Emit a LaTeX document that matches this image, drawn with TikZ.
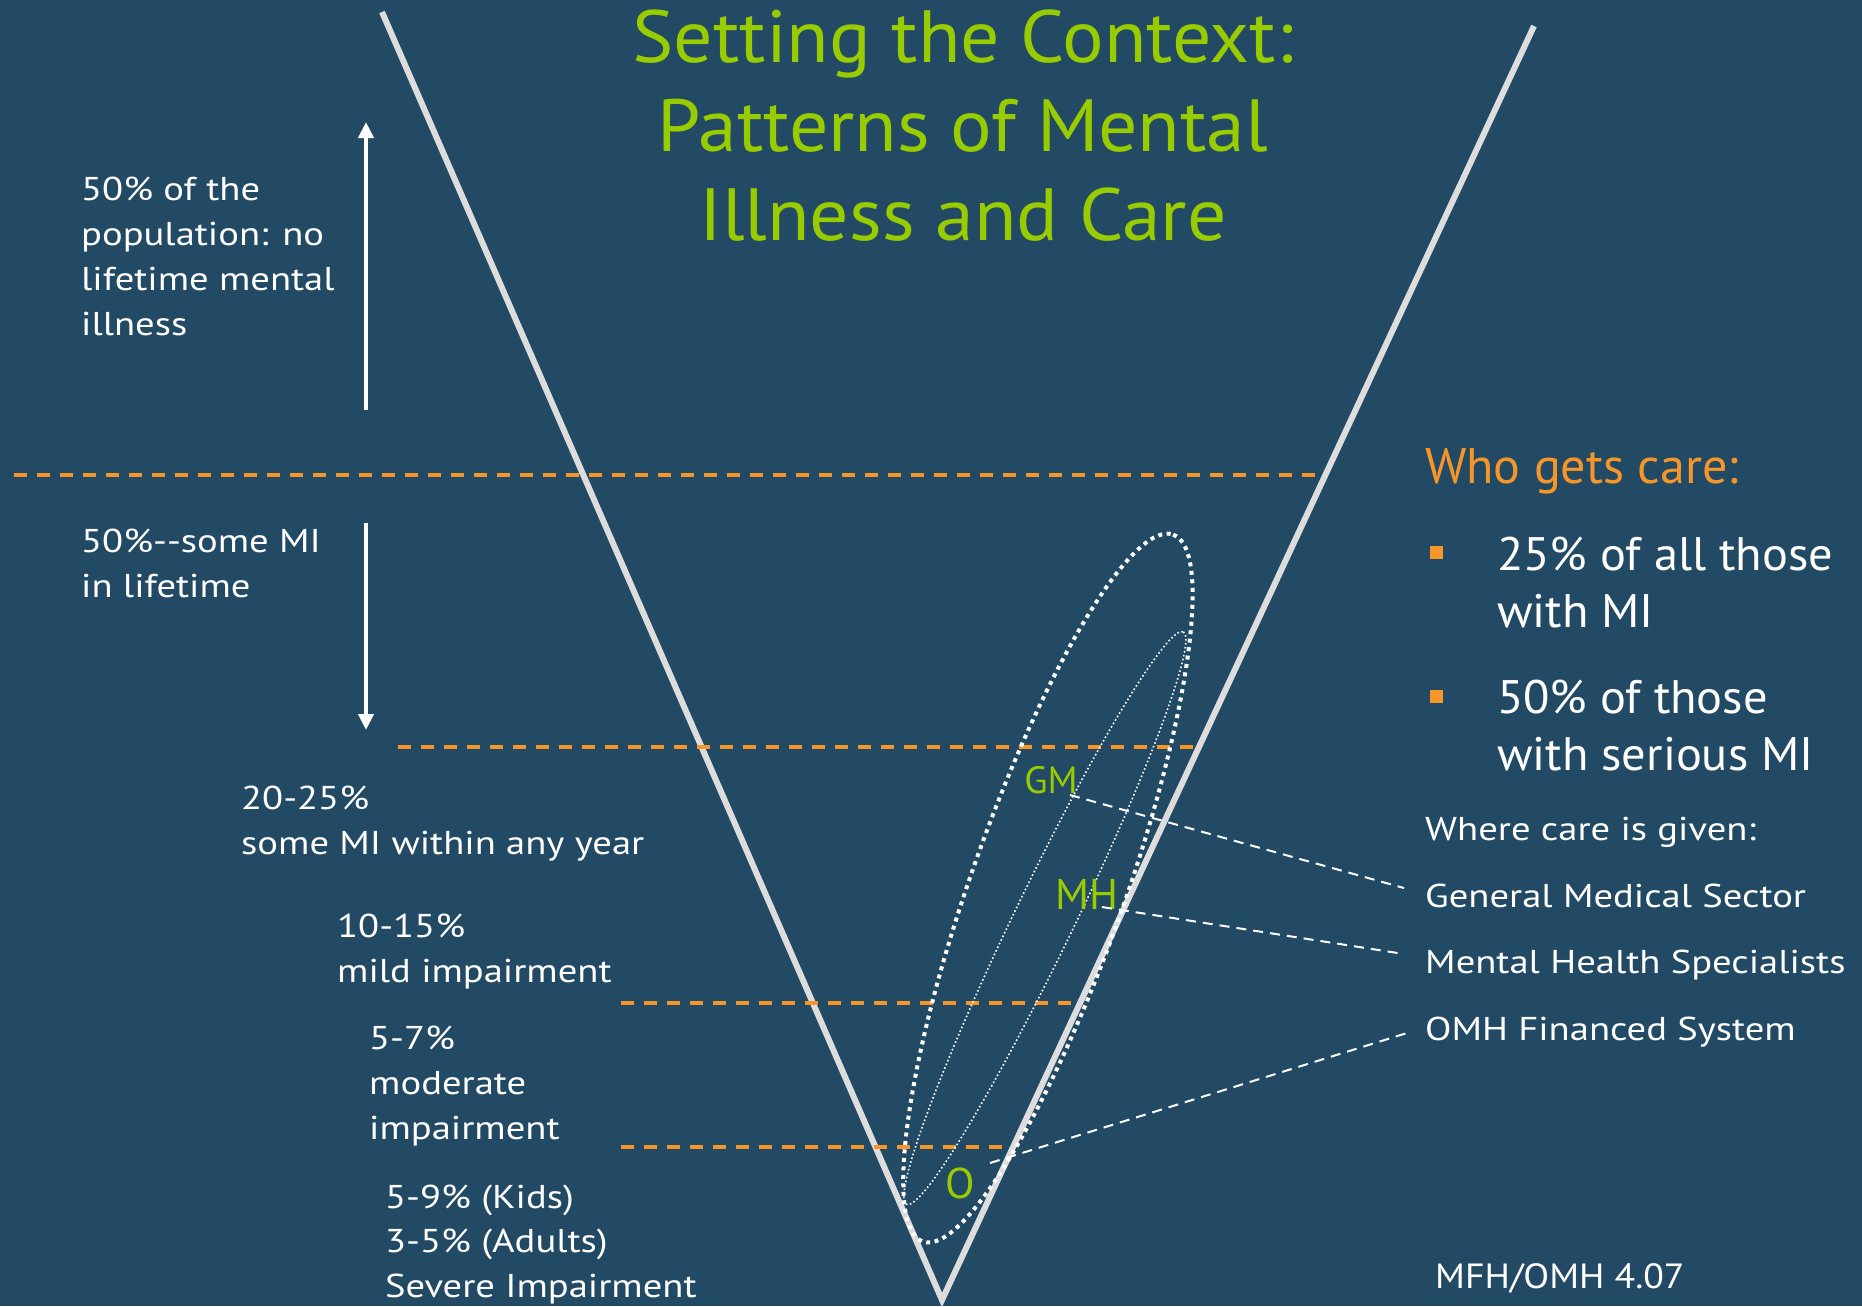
\documentclass[tikz,border=0pt]{standalone}
\usepackage{fontspec}
\setmainfont{PT Sans}
\newfontfamily\fa{PT Sans}[FakeStretch=1.17]
\newfontfamily\fb{PT Sans}[FakeStretch=1.05]
\newfontfamily\fc{PT Sans}[FakeStretch=1.08]
\newfontfamily\fd{PT Sans}[FakeStretch=1.03]
\usetikzlibrary{arrows.meta}
\definecolor{bg}{RGB}{35,74,100}
\definecolor{ttl}{RGB}{153,204,0}
\definecolor{org}{RGB}{247,150,40}
\definecolor{vgray}{RGB}{221,221,221}
\begin{document}
\begin{tikzpicture}[x=1pt,y=-1pt,
  lbl/.style={text=white, anchor=base west, align=left, inner sep=0pt, font=\fa\fontsize{33}{45}\selectfont},
  big/.style={text=white, anchor=base west, align=left, inner sep=0pt, font=\fd\fontsize{47}{57}\selectfont},
  grn/.style={text=ttl, inner sep=0pt},
  vline/.style={draw=vgray, line width=6pt, line join=miter},
  odash/.style={draw=org, line width=3.5pt, dash pattern=on 13pt off 10pt},
  wdash/.style={draw=white, line width=2pt, dash pattern=on 10pt off 7pt},
  arr/.style={draw=white, line width=4pt, -{Triangle[width=15pt,length=16pt]}},
  bigdot/.style={draw=white, line width=4pt, dash pattern=on 4pt off 4.5pt},
  thindot/.style={draw=white, line width=1.6pt, dash pattern=on 1.6pt off 2.4pt},
  bsq/.style={fill=org, minimum size=13pt, inner sep=0pt}]
\fill[bg] (0,0) rectangle (1862,1306);
\useasboundingbox (0,0) rectangle (1862,1306);
% V shape
\coordinate (vl) at (382,12);
\coordinate (vb) at (942,1300);
\coordinate (vr) at (1534,26);
\draw[vline] (vl) -- (vb) -- (vr);
% orange dashed levels
\coordinate (d1a) at (14,475);  \coordinate (d1b) at (1325,475);
\coordinate (d2a) at (398,747); \coordinate (d2b) at (1199,747);
\coordinate (d3a) at (621,1003); \coordinate (d3b) at (1080,1003);
\coordinate (d4a) at (621,1147); \coordinate (d4b) at (1010,1147);
\draw[odash] (d1a) -- (d1b);
\draw[odash] (d2a) -- (d2b);
\draw[odash] (d3a) -- (d3b);
\draw[odash] (d4a) -- (d4b);
% arrows
\coordinate (a1b) at (366,410); \coordinate (a1t) at (366,122);
\coordinate (a2t) at (366,523); \coordinate (a2b) at (366,730);
\draw[arr] (a1b) -- (a1t);
\draw[arr] (a2t) -- (a2b);
% ellipses
\coordinate (ce1) at (1048,888);
\coordinate (ce2) at (1045,918);
\draw[bigdot, rotate around={70.5:(ce1)}] (ce1) ellipse [x radius=375, y radius=77];
\draw[thindot, rotate around={64.2:(ce2)}] (ce2) ellipse [x radius=318, y radius=30];
% title (anchor base = last line)
\node[text=ttl, anchor=base, align=center, inner sep=0pt, font=\fb\fontsize{74}{89}\selectfont] (title) at (963,240) {Setting the Context:\\Patterns of Mental\\Illness and Care};
% left labels (anchor base = last line)
\node[lbl] (t1) at (81,335) {50\% of the\\population: no\\lifetime mental\\illness};
\node[lbl] (t2) at (81,597) {50\%-{}-some MI\\in lifetime};
\node[lbl] (t3) at (241,854) {20-25\%\\some MI within any year};
\node[lbl] (t4) at (337,982) {10-15\%\\mild impairment};
\node[lbl] (t5) at (369,1139) {5-7\%\\moderate\\impairment};
\node[lbl, font=\fa\fontsize{33}{44.5}\selectfont] (t6) at (385,1297) {5-9\% (Kids)\\3-5\% (Adults)\\Severe Impairment};
% right side
\node[text=org, anchor=base west, inner sep=0pt, font=\fontsize{50}{60}\selectfont] (who) at (1425,483) {Who gets care:};
\node[bsq] (sq1) at (1436,552) {};
\node[bsq] (sq2) at (1436,696) {};
\node[big] (b1) at (1497,627) {25\% of all those\\with MI};
\node[big] (b2) at (1497,770) {50\% of those\\with serious MI};
\node[lbl] (where) at (1425,840) {Where care is given:};
\node[lbl] (gms) at (1425,907) {General Medical Sector};
\node[lbl] (mhs) at (1425,973) {Mental Health Specialists};
\node[lbl] (omh) at (1425,1040) {OMH Financed System};
\node[lbl, font=\fc\fontsize{35}{42}\selectfont] (ver) at (1435,1288) {MFH/OMH 4.07};
% green labels
\node[grn, font=\fontsize{38}{40}\selectfont] (GM) at (1051,780) {GM};
\node[grn, font=\fontsize{43}{45}\selectfont] (MH) at (1087,894) {MH};
\node[grn, font=\fontsize{43}{45}\selectfont] (O) at (960,1183) {O};
% connectors
\coordinate (gmS) at (1070,795); \coordinate (gmE) at (1404,888);
\coordinate (mhS) at (1102,907); \coordinate (mhE) at (1404,954);
\coordinate (oS) at (990,1163);  \coordinate (oE) at (1407,1033);
\draw[wdash] (gmS) -- (gmE);
\draw[wdash] (mhS) -- (mhE);
\draw[wdash] (oS) -- (oE);
\end{tikzpicture}
\end{document}
